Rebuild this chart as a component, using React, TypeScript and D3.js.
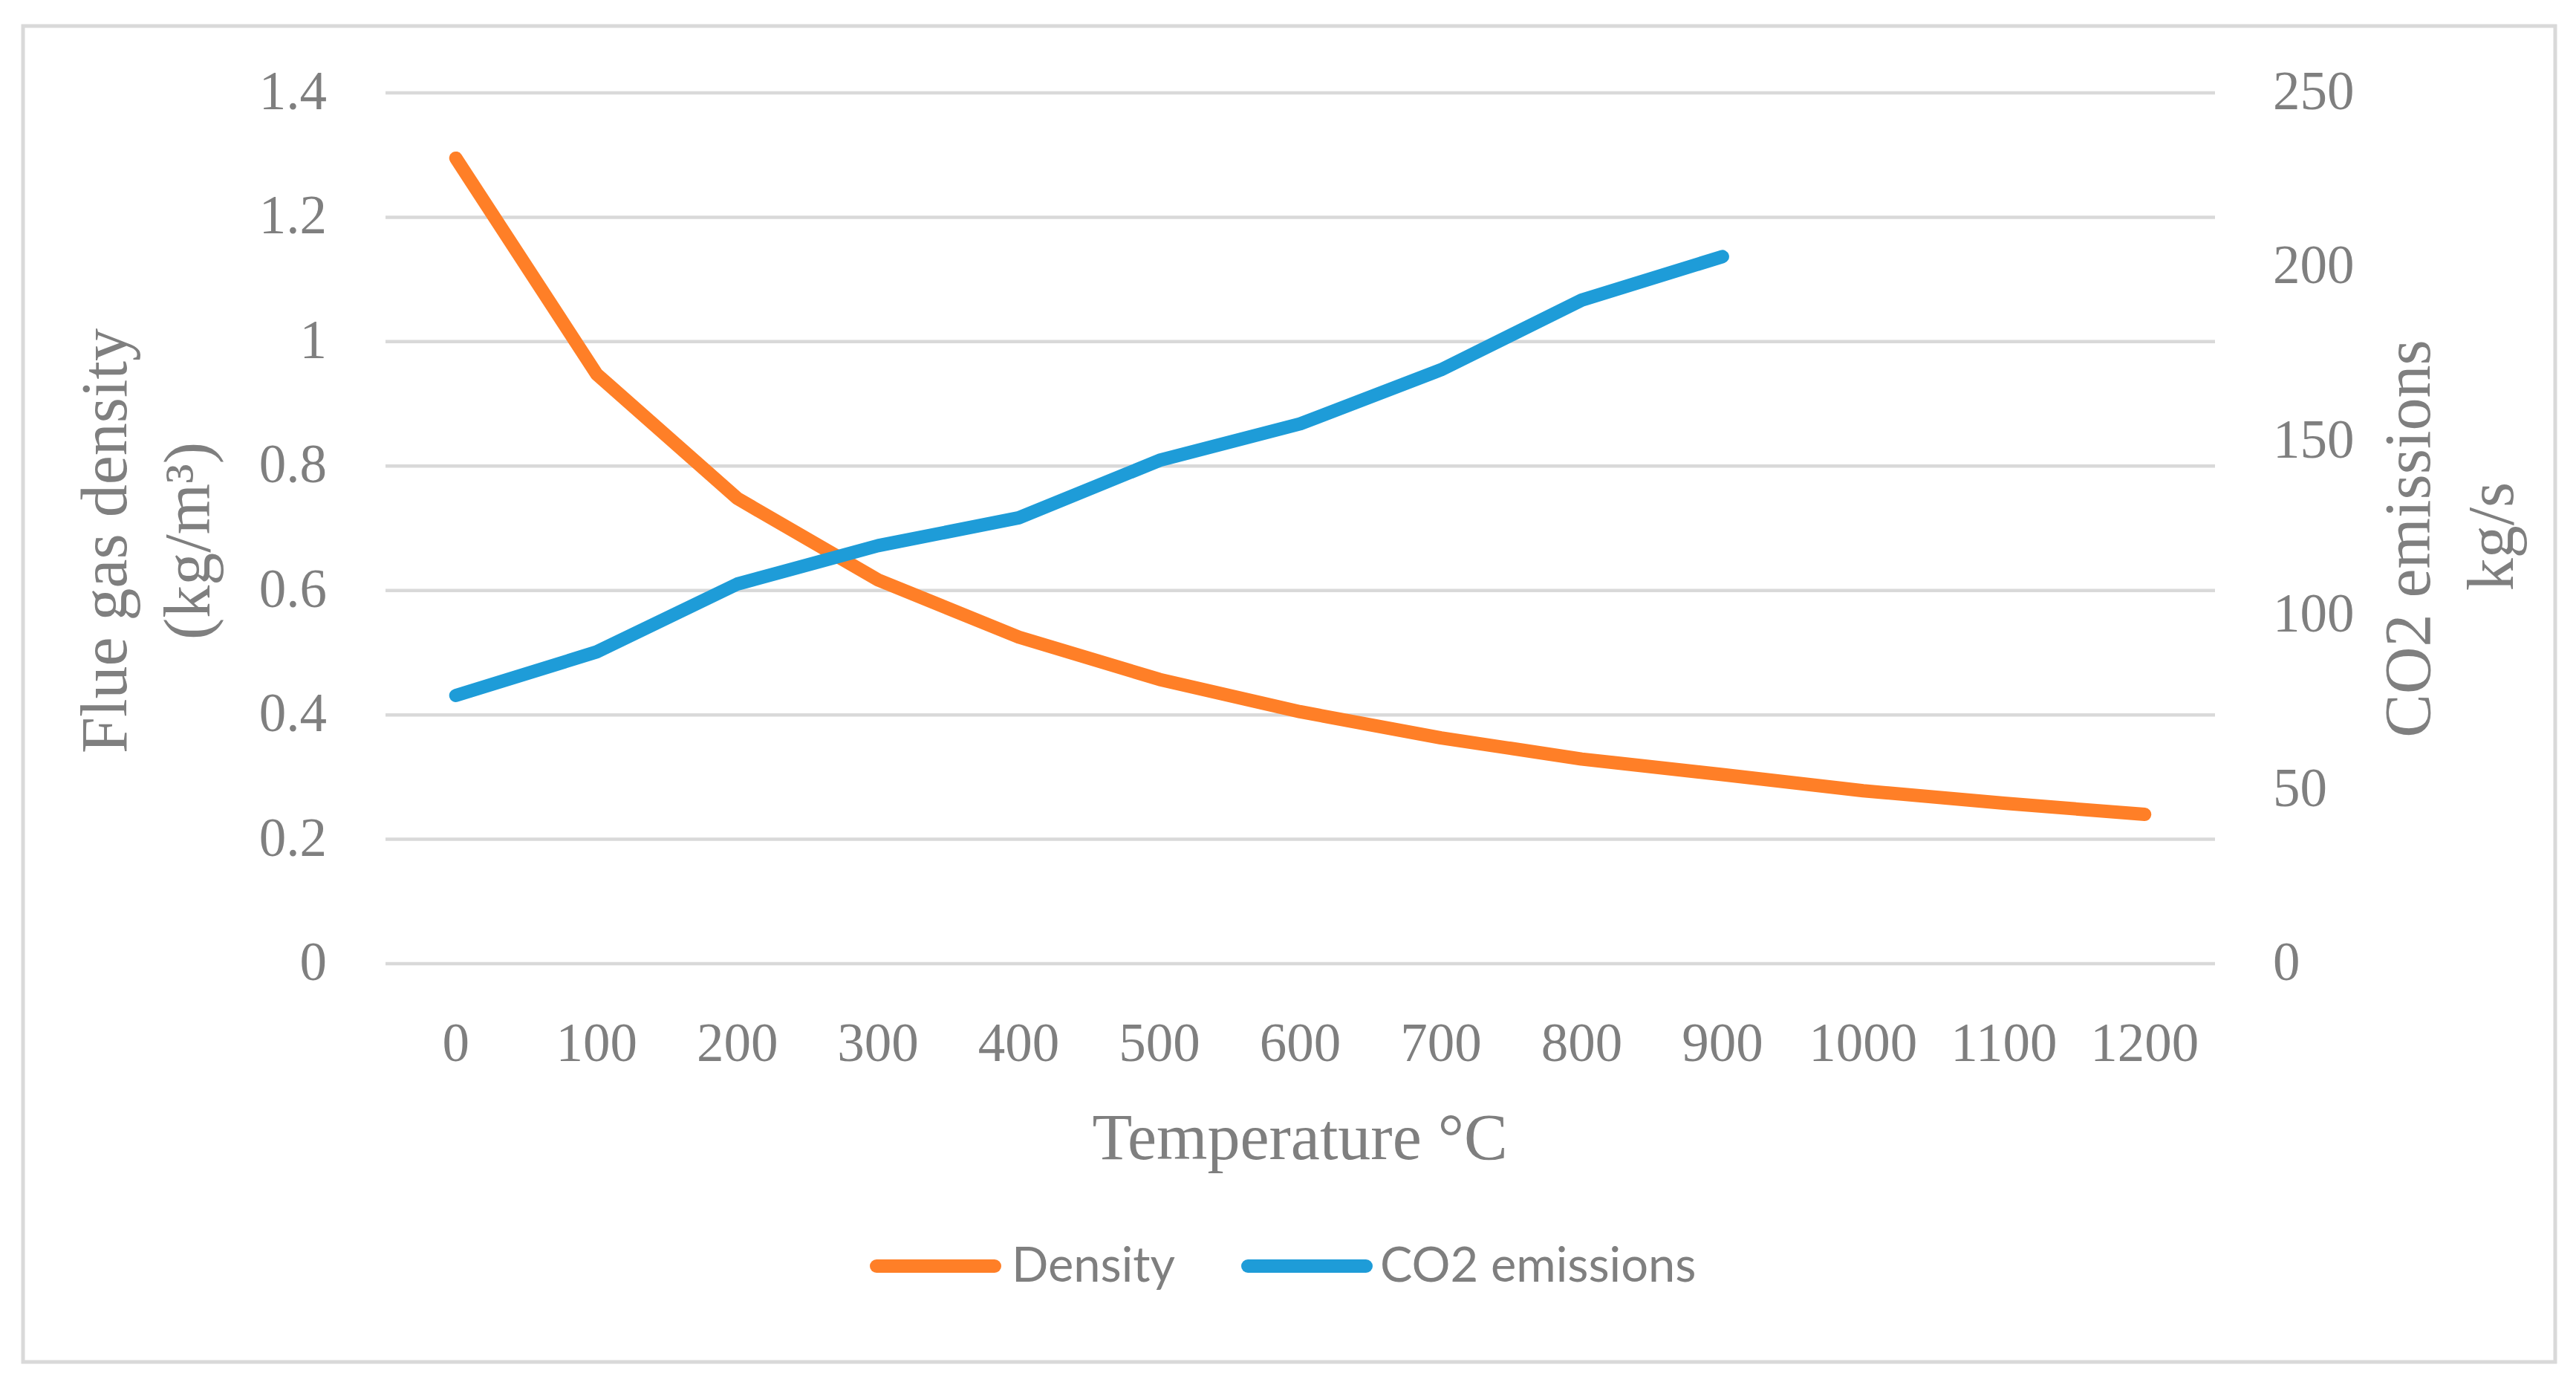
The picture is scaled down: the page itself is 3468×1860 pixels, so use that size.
import React from "react";
import * as d3 from "d3";

const categories = ["0", "100", "200", "300", "400", "500", "600", "700", "800", "900", "1000", "1100", "1200"];
const densityValues = [1.295, 0.948, 0.748, 0.617, 0.525, 0.457, 0.405, 0.363, 0.329, 0.304, 0.278, 0.258, 0.24];
const co2Values = [77, 89.5, 109, 120, 128, 144.5, 155, 170.5, 190.5, 203];
const leftTicks = [0, 0.2, 0.4, 0.6, 0.8, 1, 1.2, 1.4];
const rightTicks = [0, 50, 100, 150, 200, 250];
const seriesNames = ["Density", "CO2 emissions"];
const seriesColors = ["#FF7F27", "#1E9CD8"];

const W = 3468;
const H = 1860;
const SERIF = "'Liberation Serif', 'Times New Roman', serif";
const SANS = "Lato, 'Open Sans', sans-serif";
const TEXT = "#7f7f7f";

export default function App() {
  const x = d3.scaleBand<string>().domain(categories).range([519, 2982]);
  const cx = (c: string) => (x(c) as number) + x.bandwidth() / 2;
  const yL = d3.scaleLinear().domain([0, 1.4]).range([1297, 125]);
  const yR = d3.scaleLinear().domain([0, 250]).range([1297, 125]);

  const densLine = d3
    .line<number>()
    .x((_, i) => cx(categories[i]))
    .y((d) => yL(d));
  const co2Line = d3
    .line<number>()
    .x((_, i) => cx(categories[i]))
    .y((d) => yR(d));

  const fmtL = (v: number) => (v === 0 ? "0" : v === 1 ? "1" : String(Math.round(v * 10) / 10));

  const legendItems = [
    { x1: 1180, x2: 1339, tx: 1362 },
    { x1: 1680, x2: 1839, tx: 1858 },
  ];

  return (
    <svg
      width={W}
      height={H}
      viewBox={`0 0 ${W} ${H}`}
      style={{ position: "absolute", left: 0, top: 0, background: "#fff" }}
    >
      <rect x={0} y={0} width={W} height={H} fill="#fff" />
      <rect x={31} y={35} width={3409} height={1798} fill="#fff" stroke="#d9d9d9" strokeWidth={5} />

      {/* gridlines */}
      {leftTicks.map((t) => (
        <line key={"g" + t} x1={519} x2={2982} y1={yL(t)} y2={yL(t)} stroke="#d9d9d9" strokeWidth={4.5} />
      ))}

      {/* left tick labels */}
      {leftTicks.map((t) => (
        <text
          key={"l" + t}
          x={440}
          y={yL(t) + 22}
          textAnchor="end"
          fontFamily={SERIF}
          fontSize={73}
          fill={TEXT}
        >
          {fmtL(t)}
        </text>
      ))}

      {/* right tick labels */}
      {rightTicks.map((t) => (
        <text key={"r" + t} x={3060} y={yR(t) + 22} textAnchor="start" fontFamily={SERIF} fontSize={73} fill={TEXT}>
          {t}
        </text>
      ))}

      {/* x tick labels */}
      {categories.map((c) => (
        <text key={"x" + c} x={cx(c)} y={1428} textAnchor="middle" fontFamily={SERIF} fontSize={73} fill={TEXT}>
          {c}
        </text>
      ))}

      {/* axis titles */}
      <text x={1750} y={1560} textAnchor="middle" fontFamily={SERIF} fontSize={88} fill={TEXT}>
        Temperature °C
      </text>
      <g transform="translate(170,728) rotate(-90)">
        <text x={0} y={0} textAnchor="middle" fontFamily={SERIF} fontSize={88} fill={TEXT}>
          Flue gas density
        </text>
      </g>
      <g transform="translate(282,728) rotate(-90)">
        <text x={0} y={0} textAnchor="middle" fontFamily={SERIF} fontSize={88} fill={TEXT}>
          (kg/m³)
        </text>
      </g>
      <g transform="translate(3271,725) rotate(-90)">
        <text x={0} y={0} textAnchor="middle" fontFamily={SERIF} fontSize={88} fill={TEXT}>
          CO2 emissions
        </text>
      </g>
      <g transform="translate(3383,722) rotate(-90)">
        <text x={0} y={0} textAnchor="middle" fontFamily={SERIF} fontSize={88} fill={TEXT}>
          kg/s
        </text>
      </g>

      {/* data lines */}
      <path
        d={densLine(densityValues) || ""}
        fill="none"
        stroke={seriesColors[0]}
        strokeWidth={18}
        strokeLinecap="round"
        strokeLinejoin="round"
      />
      <path
        d={co2Line(co2Values) || ""}
        fill="none"
        stroke={seriesColors[1]}
        strokeWidth={18}
        strokeLinecap="round"
        strokeLinejoin="round"
      />

      {/* legend */}
      {seriesNames.map((name, i) => (
        <g key={name}>
          <line
            x1={legendItems[i].x1}
            x2={legendItems[i].x2}
            y1={1704}
            y2={1704}
            stroke={seriesColors[i]}
            strokeWidth={18}
            strokeLinecap="round"
          />
          <text x={legendItems[i].tx} y={1725} fontFamily={SANS} fontSize={65} fill={TEXT}>
            {name}
          </text>
        </g>
      ))}
    </svg>
  );
}
